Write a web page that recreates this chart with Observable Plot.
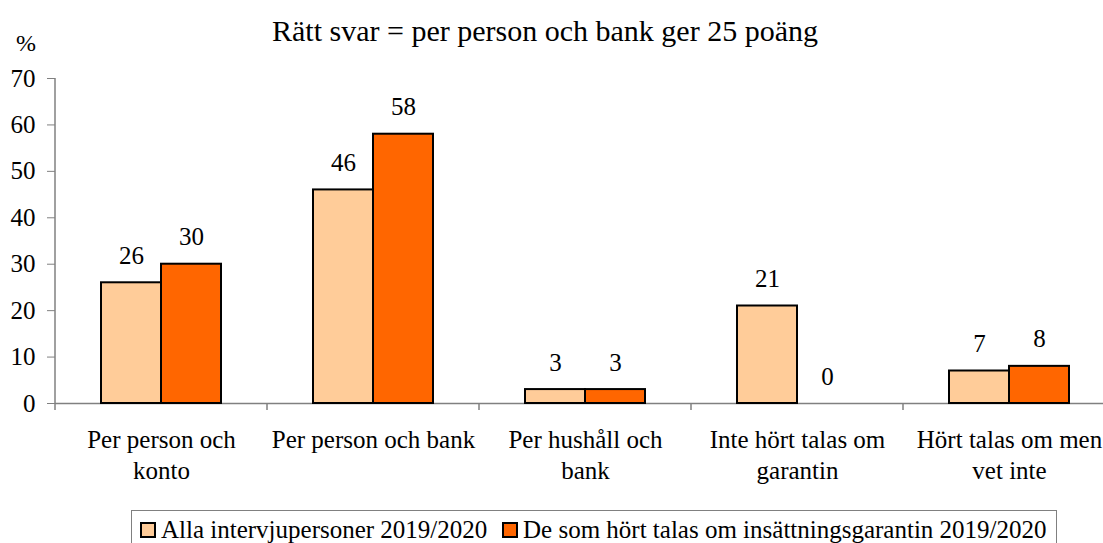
<!DOCTYPE html>
<html>
<head>
<meta charset="utf-8">
<script src="https://cdn.jsdelivr.net/npm/d3@7"></script>
<script src="https://cdn.jsdelivr.net/npm/@observablehq/plot@0.6"></script>
<style>
  html, body { margin: 0; padding: 0; background: white; overflow: hidden; }
  #wrap { position: relative; width: 1103px; height: 543px; overflow: hidden; font-family: "Liberation Serif", "Times New Roman", serif; color: black; }
  #subtitle { position: absolute; left: 0; top: 14px; width: 1090px; text-align: center; font-size: 30px; line-height: 34px; }
  #pct { position: absolute; left: 16px; top: 30px; font-size: 24px; line-height: 27px; }
  #chart { position: absolute; left: 0; top: 0; width: 1116px; }
  #chart svg { max-width: none !important; }
  #legend { position: absolute; left: 131px; top: 510px; width: 924px; height: 40px; border: 1px solid #808080; box-sizing: content-box; font-size: 25px; line-height: 30px; white-space: nowrap; }
  #legend .item { position: absolute; top: 4px; }
  #legend .sw { display: inline-block; width: 12px; height: 12px; border: 2px solid black; vertical-align: baseline; margin-right: 5px; position: relative; top: 0px; }
</style>
</head>
<body>
<div id="wrap">
  <div id="chart"></div>
  <div id="subtitle">Rätt svar = per person och bank ger 25 poäng</div>
  <div id="pct">%</div>
  <div id="legend"></div>
</div>
<script>
const categories = [
  "Per person och\nkonto",
  "Per person och bank",
  "Per hushåll och\nbank",
  "Inte hört talas om\ngarantin",
  "Hört talas om men\nvet inte"
];
const seriesNames = [
  "Alla intervjupersoner 2019/2020",
  "De som hört talas om insättningsgarantin 2019/2020"
];
const allaValues = [26, 46, 3, 21, 7];
const hortValues = [30, 58, 3, 0, 8];
const yTicks = [0, 10, 20, 30, 40, 50, 60, 70];
const seriesColors = ["#FFCC99", "#FF6600"];

const seriesValues = [allaValues, hortValues];
const data = categories.flatMap((cat, i) =>
  seriesNames.map((s, j) => ({cat, series: s, value: seriesValues[j][i]}))
);

const chart = Plot.plot({
  width: 1116,
  height: 500,
  marginTop: 78,
  marginBottom: 97,
  marginLeft: 53,
  marginRight: 0,
  style: {fontFamily: "'Liberation Serif', 'Times New Roman', serif", fontSize: "25px", color: "black", background: "white", overflow: "visible", maxWidth: "none"},
  fx: {domain: categories, padding: 0, label: null},
  x: {domain: seriesNames, paddingInner: 0, paddingOuter: 0.742, axis: null},
  y: {domain: [0, 70], label: null},
  color: {domain: seriesNames, range: seriesColors},
  marks: [
    Plot.ruleY([0], {stroke: "#808080", strokeWidth: 1.5}),
    Plot.barY(data, {fx: "cat", x: "series", y: "value", fill: "series", stroke: "black", strokeWidth: 2}),
    Plot.text(data, {fx: "cat", x: "series", y: "value", text: d => String(d.value), dy: -27, fontSize: 25, fill: "black"}),
    Plot.axisY({ticks: yTicks, tickSize: 8, tickPadding: 12, stroke: "#808080", fill: "black", fontSize: 25, label: null}),
    Plot.axisFx({anchor: "bottom", tickSize: 0, tickPadding: 22, lineHeight: 1.24, fontSize: 25, label: null, fill: "black"})
  ]
});
document.getElementById("chart").appendChild(chart);

// axis line and category separators, from the chart's own scales
const fx = chart.scale("fx");
const y = chart.scale("y");
const y0 = y.apply(0);
const yTop = y.apply(70);
const bounds = categories.map(c => fx.apply(c));
bounds.push(fx.apply(categories[categories.length - 1]) + fx.bandwidth);
const g = d3.select(chart).append("g").attr("stroke", "#808080").attr("stroke-width", 1.5);
g.append("line").attr("x1", bounds[0]).attr("x2", bounds[0]).attr("y1", yTop).attr("y2", y0 + 7);
bounds.slice(1).forEach(b => {
  g.append("line").attr("x1", b).attr("x2", b).attr("y1", y0).attr("y2", y0 + 7);
});

// legend
const legend = document.getElementById("legend");
const lefts = [8, 370];
seriesNames.forEach((s, i) => {
  const it = document.createElement("span");
  it.className = "item";
  it.style.left = lefts[i] + "px";
  const sw = document.createElement("span");
  sw.className = "sw";
  sw.style.background = seriesColors[i];
  it.appendChild(sw);
  it.appendChild(document.createTextNode(s));
  legend.appendChild(it);
});
</script>
</body>
</html>
